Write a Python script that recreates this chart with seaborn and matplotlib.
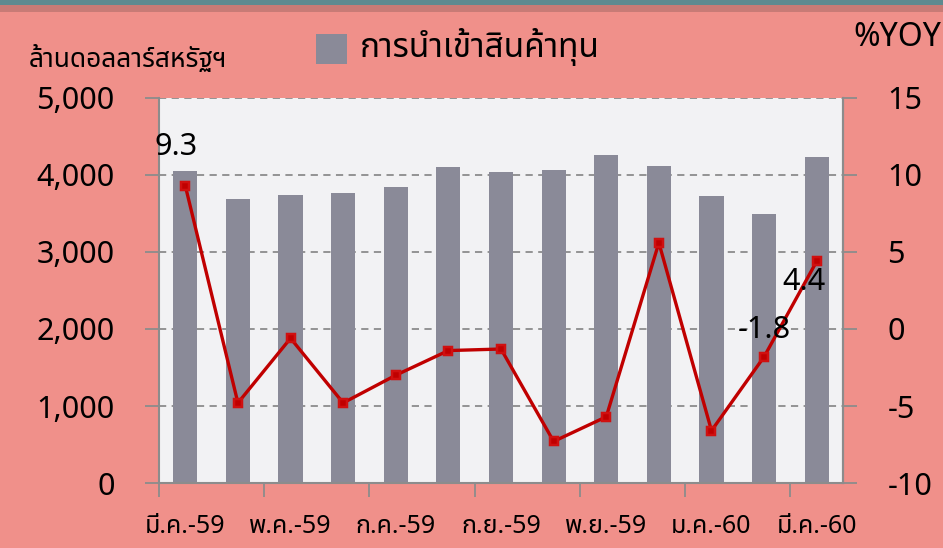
import numpy as np
import pandas as pd
import matplotlib
matplotlib.use("Agg")
import matplotlib.pyplot as plt
from matplotlib import font_manager
from matplotlib.ft2font import FT2Font
from matplotlib.ticker import FuncFormatter, FixedLocator
import seaborn as sns

# ---------------- data ----------------
months = ["มี.ค.-59", "เม.ย.-59", "พ.ค.-59", "มิ.ย.-59", "ก.ค.-59", "ส.ค.-59",
          "ก.ย.-59", "ต.ค.-59", "พ.ย.-59", "ธ.ค.-59", "ม.ค.-60", "ก.พ.-60", "มี.ค.-60"]
imports_musd = [4050, 3690, 3735, 3765, 3845, 4100, 4040, 4065, 4265, 4115, 3725, 3490, 4230]
yoy_pct = [9.3, -4.8, -0.6, -4.8, -3.0, -1.4, -1.3, -7.3, -5.7, 5.6, -6.6, -1.8, 4.4]
labelled_points = {0: "9.3", 11: "-1.8", 12: "4.4"}
legend_label = "การนำเข้าสินค้าทุน"
left_title = "ล้านดอลลาร์สหรัฐฯ"
right_title = "%YOY"

# ---------------- fonts ----------------
thai_font = None
preferred = ["Noto Sans Thai", "Noto Sans Thai UI", "Leelawadee UI", "Tahoma", "Sarabun",
             "Garuda", "Loma", "Umpush", "Waree", "Norasi", "Kinnari"]
cands = {}
for f in font_manager.fontManager.ttflist:
    try:
        cm = FT2Font(f.fname).get_charmap()
        if 0x0E01 in cm and 0x0E33 in cm:
            cands.setdefault(f.name, f)
    except Exception:
        pass
for p in preferred:
    if p in cands:
        thai_font = p
        break
if thai_font is None and cands:
    thai_font = sorted(cands.keys())[0]
fams = ["Noto Sans"] + ([thai_font] if thai_font else []) + ["DejaVu Sans"]

sns.set_theme(style="white")
plt.rcParams["font.family"] = fams
plt.rcParams["axes.unicode_minus"] = False
plt.rcParams["text.color"] = "black"
plt.rcParams["xtick.color"] = "black"
plt.rcParams["ytick.color"] = "black"

BG = "#F0908A"
PLOT_BG = "#F2F2F4"
BAR = "#8A8A98"
LINE = "#C00000"
GRID = "#8C8C8C"

df = pd.DataFrame({"month": months, "imports": imports_musd, "yoy": yoy_pct})

fig = plt.figure(figsize=(9.43, 5.48), dpi=100, facecolor=BG)
ax = fig.add_axes([0.1686, 0.1186, 0.894 - 0.1686, 0.8212 - 0.1186])
ax.set_facecolor(PLOT_BG)

sns.barplot(data=df, x="month", y="imports", color=BAR, width=0.46, ax=ax,
            saturation=1, order=months, linewidth=0)
ax.set_ylim(0, 5000)
ax.set_xlim(-0.5, len(months) - 0.5)
ax.set_yticks(np.arange(0, 5001, 1000))
ax.yaxis.set_major_formatter(FuncFormatter(lambda v, p: f"{int(v):,}"))
ax.grid(axis="y", color=GRID, linestyle=(0, (4, 3)), linewidth=1.3)
ax.set_axisbelow(True)
ax.set_xlabel("")
ax.set_ylabel("")

# x ticks: marks at every-two boundaries, labels on every other month
boundaries = np.arange(-0.5, len(months) - 1, 2)
ax.xaxis.set_major_locator(FixedLocator(boundaries))
ax.set_xticklabels([])
label_pos = np.arange(0, len(months), 2)
ax.xaxis.set_minor_locator(FixedLocator(label_pos))
ax.set_xticklabels([months[i] for i in label_pos], minor=True)
ax.tick_params(axis="x", which="major", length=10, width=1.3, color=GRID, direction="out", bottom=True)
ax.tick_params(axis="x", which="minor", length=0, pad=22, labelsize=18, bottom=True,
               labelcolor="black")
for t in ax.get_xticklabels(minor=True):
    t.set_fontweight("bold")
ax.tick_params(axis="y", length=10, width=1.3, color=GRID, direction="out", left=True,
               labelsize=22, pad=22, labelcolor="black")

ax.spines["top"].set_visible(False)
for s in ["left", "right", "bottom"]:
    ax.spines[s].set_color(GRID)
    ax.spines[s].set_linewidth(1.5)

ax2 = ax.twinx()
sns.pointplot(data=df, x="month", y="yoy", order=months, color=LINE, markers="s",
              markersize=6, linewidth=2.4, ax=ax2, errorbar=None)
ax2.set_ylim(-10, 15)
ax2.set_yticks(np.arange(-10, 16, 5))
ax2.set_xlim(-0.5, len(months) - 0.5)
ax2.set_ylabel("")
ax2.set_xlabel("")
ax2.tick_params(axis="y", length=10, width=1.3, color=GRID, direction="out", right=True,
                labelsize=22, pad=22, labelcolor="black")
for s in ["top", "left", "bottom"]:
    ax2.spines[s].set_visible(False)
ax2.spines["right"].set_color(GRID)
ax2.spines["right"].set_linewidth(1.5)
for ln in ax2.lines:
    ln.set_markeredgecolor("#D01010")

# data labels
offsets = {0: (-7, 28), 11: (0, 19), 12: (-9, -15)}
for i, txt in labelled_points.items():
    dx, dy = offsets[i]
    ax2.annotate(txt, (i, yoy_pct[i]), xytext=(dx, dy), textcoords="offset points",
                 ha="center", va="center", fontsize=22, color="black")

# titles / legend
fig.text(0.03, 0.890, left_title, fontsize=19, fontweight="bold", ha="left", va="center")
fig.text(0.998, 0.932, right_title, fontsize=23, ha="right", va="center")
fig.patches.append(plt.Rectangle((0.335, 0.883), 0.033, 0.055, transform=fig.transFigure,
                                 facecolor=BAR, edgecolor="none"))
fig.text(0.381, 0.915, legend_label, fontsize=24, fontweight="bold", ha="left", va="center")

# top band
fig.patches.append(plt.Rectangle((0, 0.99), 1, 0.01, transform=fig.transFigure,
                                 facecolor="#5E8A90", edgecolor="none"))
fig.patches.append(plt.Rectangle((0, 0.978), 1, 0.012, transform=fig.transFigure,
                                 facecolor="#C87B76", edgecolor="none"))

fig.savefig("out.png", dpi=100, facecolor=BG)
